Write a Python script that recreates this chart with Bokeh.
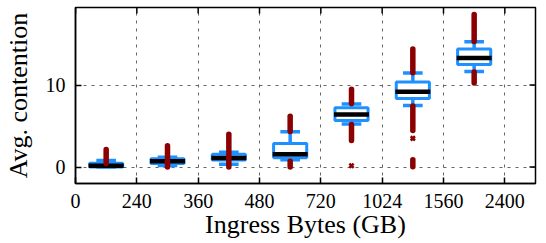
from bokeh.plotting import figure
from bokeh.models import FixedTicker, Range1d, ColumnDataSource
from bokeh.embed import file_html
from bokeh.resources import INLINE

# ---- data ----
tick_labels = ["0", "240", "360", "480", "720", "1024", "1560", "2400"]
y_ticks = [0, 10]
medians = [0.15, 0.7, 1.1, 1.55, 6.4, 9.18, 13.3]
q1 = [0.0, 0.43, 0.85, 1.15, 5.67, 8.35, 12.5]
q3 = [0.48, 1.02, 1.55, 2.87, 7.23, 10.37, 14.4]
whis_lo = [0.0, 0.2, 0.35, 0.9, 5.24, 7.5, 11.65]
whis_hi = [0.8, 1.2, 1.8, 4.3, 7.7, 11.46, 15.27]

# dense runs of outliers (category index, low, high)
flier_cat = [0, 1, 2, 3, 3, 4, 4, 5, 5, 5, 6, 6]
flier_lo = [0.45, 0.0, 0.0, 4.35, 0.0, 7.75, 3.25, 11.5, 4.45, 0.05, 15.3, 10.25]
flier_hi = [2.15, 2.6, 4.0, 6.2, 0.7, 9.5, 5.2, 14.4, 7.45, 0.9, 18.6, 11.6]
# isolated outliers
iso_cat = [4, 5]
iso_val = [0.15, 3.5]

X_MIN, X_MAX = 0, 7.5
Y_MIN, Y_MAX = -2.0, 19.45

BLUE = "#1e90ff"
RED = "#8b0000"
FONT = "Liberation Serif"

pos = [i + 0.5 for i in range(len(medians))]
src = ColumnDataSource(dict(pos=pos, q1=q1, q3=q3, med=medians, lo=whis_lo, hi=whis_hi))

p = figure(width=538, height=243, x_range=Range1d(X_MIN, X_MAX), y_range=Range1d(Y_MIN, Y_MAX),
           output_backend="svg", toolbar_location=None,
           min_border_left=65, min_border_right=3, min_border_top=7, min_border_bottom=60)

# whiskers
p.segment(x0="pos", y0="q3", x1="pos", y1="hi", source=src, line_color=BLUE, line_width=3.5)
p.segment(x0="pos", y0="q1", x1="pos", y1="lo", source=src, line_color=BLUE, line_width=3.5)
# boxes
p.vbar(x="pos", bottom="q1", top="q3", width=0.54, source=src,
       fill_color="white", line_color=BLUE, line_width=3)
# caps
p.rect(x="pos", y="hi", width=0.32, height=3.5, height_units="screen", source=src,
       fill_color=BLUE, line_color=None)
p.rect(x="pos", y="lo", width=0.32, height=3.5, height_units="screen", source=src,
       fill_color=BLUE, line_color=None)
# medians
p.rect(x="pos", y="med", width=0.57, height=4.5, height_units="screen", source=src,
       fill_color="black", line_color=None)
# outliers
fpos = [pos[i] for i in flier_cat]
p.segment(x0=fpos, y0=flier_lo, x1=fpos, y1=flier_hi, line_color=RED, line_width=5.5,
          line_cap="round")
p.scatter([pos[i] for i in iso_cat], iso_val, marker="x", size=6, line_color=RED, line_width=2.5)

# inward ticks on the top and right edges of the frame
x_tick_pos = list(range(len(tick_labels)))
p.rect(x=x_tick_pos, y=[Y_MAX] * len(x_tick_pos), width=1.5, width_units="screen",
       height=12, height_units="screen", fill_color="black", line_color=None)
p.rect(x=[X_MAX] * len(y_ticks), y=y_ticks, width=12, width_units="screen",
       height=1.5, height_units="screen", fill_color="black", line_color=None)

# axes
p.xaxis.ticker = FixedTicker(ticks=x_tick_pos)
p.xaxis.major_label_overrides = {i: t for i, t in enumerate(tick_labels)}
p.yaxis.ticker = FixedTicker(ticks=y_ticks)
p.xaxis.axis_label = "Ingress Bytes (GB)"
p.yaxis.axis_label = "Avg. contention"

for ax in [p.xaxis[0], p.yaxis[0]]:
    ax.major_tick_in = 6
    ax.major_tick_out = 0
    ax.minor_tick_in = 0
    ax.minor_tick_out = 0
    ax.major_tick_line_width = 1.5
    ax.axis_line_width = 1.5
    ax.major_label_text_font = FONT
    ax.major_label_text_font_size = "20px"
    ax.major_label_text_color = "black"
    ax.axis_label_text_font = FONT
    ax.axis_label_text_font_size = "26px"
    ax.axis_label_text_font_style = "normal"
    ax.axis_label_text_color = "black"

p.xaxis.major_label_standoff = 10
p.xaxis.axis_label_standoff = -1
p.yaxis.major_label_standoff = 10
p.yaxis.axis_label_standoff = 10

p.xgrid.grid_line_color = "#666666"
p.ygrid.grid_line_color = "#666666"
p.xgrid.grid_line_dash = "3 5"
p.ygrid.grid_line_dash = "3 5"
p.xgrid.grid_line_width = 1
p.ygrid.grid_line_width = 1

p.outline_line_color = "black"
p.outline_line_width = 1.5
p.background_fill_color = "white"
p.border_fill_color = "white"

open("out.html", "w").write(file_html(p, INLINE))
